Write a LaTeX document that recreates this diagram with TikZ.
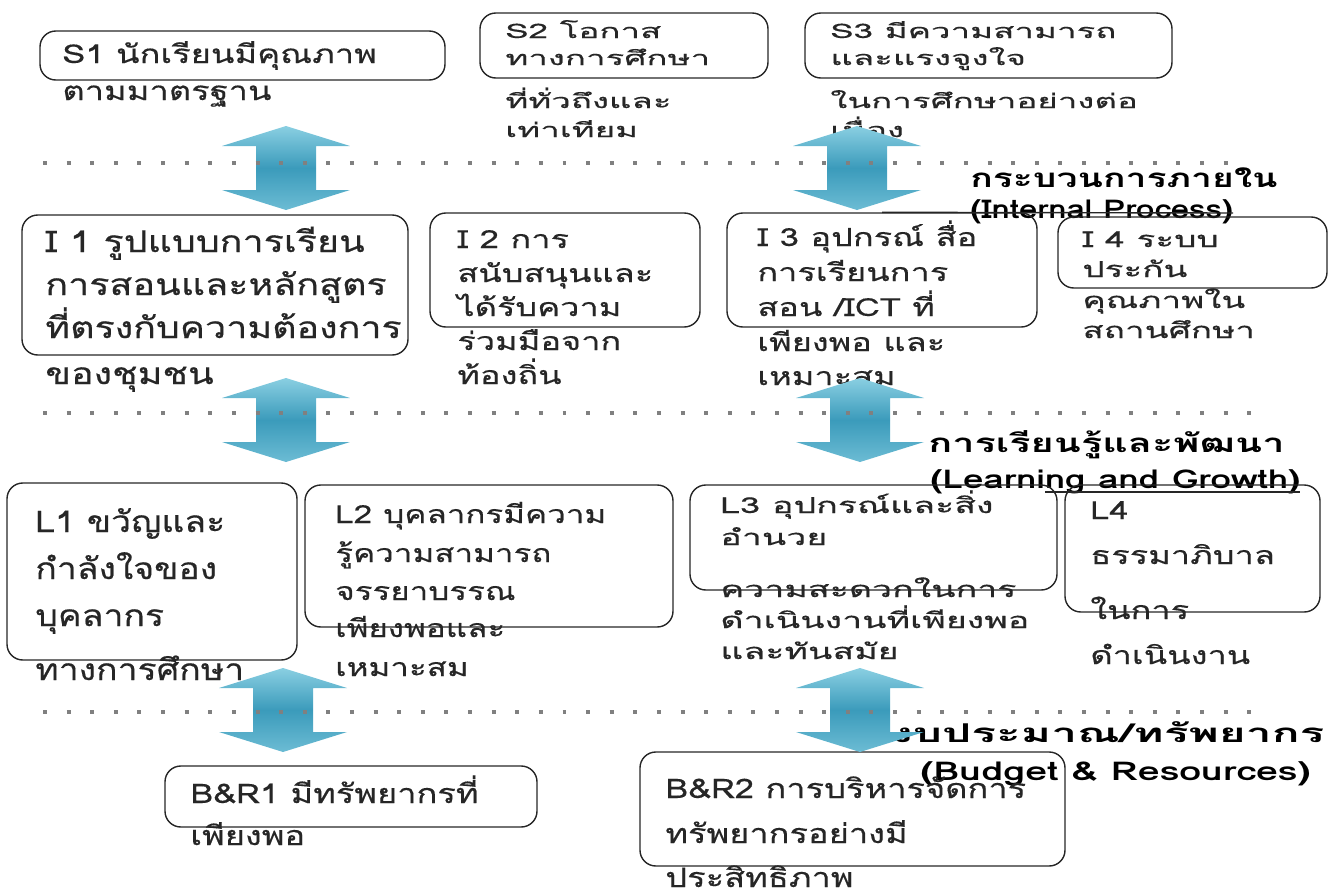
\documentclass[tikz,border=0pt]{standalone}
\usepackage{fontspec}
\setmainfont{Loma}[Script=Thai]
\usetikzlibrary{fit}
\newdimen\pxu \pxu=0.5669pt
% font size in px, horizontal stretch
\newcommand\ff[2]{\fontspec{Loma}[Script=Thai,FakeStretch=#2,FakeBold=0.4]\fontsize{#1\pxu}{#1\pxu}\selectfont}
\newcommand\ffb[2]{\fontspec{Loma}[Script=Thai,FakeStretch=#2]\fontsize{#1\pxu}{#1\pxu}\selectfont\bfseries}
\definecolor{arTop}{HTML}{8ACFE2}
\definecolor{arMid}{HTML}{3B9BBB}
\definecolor{arBot}{HTML}{6CBCD4}
\definecolor{dotc}{HTML}{808080}
\tikzset{
  tx/.style={inner sep=0pt, anchor=base west, text=black!85},
  box/.style={draw=black!85, line width=0.8pt, rounded corners=9pt, inner sep=0pt},
  dots/.style={draw=dotc, line width=2.27pt, dash pattern=on 2.27pt off 11.17pt},
  arrowfill/.style={top color=arTop, bottom color=arBot, middle color=arMid, draw=none},
  dblarrow/.pic={\path[arrowfill] (0,0) -- (64,20) -- (30,20) -- (30,64) -- (64,64) -- (0,84)
      -- (-64,64) -- (-30,64) -- (-30,20) -- (-64,20) -- cycle;},
  lbl/.style={inner sep=0pt, anchor=base west, text=black}
}
\begin{document}
\begin{tikzpicture}[x=0.02cm,y=-0.02cm]
\useasboundingbox (0,0) rectangle (1329,896);
% ---------- texts ----------
\begin{scope}[every node/.append style={font=\ff{26}{1.33}}]
\node[tx] (s1a) at (62,63) {S1 นักเรียนมีคุณภาพ};
\node[tx] (s1b) at (62,100) {ตามมาตรฐาน};
\end{scope}
\begin{scope}[every node/.append style={font=\ff{20}{1.75}}]
\node[tx] (s2a) at (505,38) {S2 โอกาส};
\node[tx] (s2b) at (505,65) {ทางการศึกษา};
\node[tx] (s2c) at (505,108) {ที่ทั่วถึงและ};
\node[tx] (s2d) at (505,137) {เท่าเทียม};
\node[tx] (s3a) at (830,38) {S3 มีความสามารถ};
\node[tx] (s3b) at (830,65) {และแรงจูงใจ};
\node[tx] (s3c) at (830,108) {ในการศึกษาอย่างต่อ};
\node[tx] (s3d) at (830,137) {เนื่อง};
\end{scope}
\node[lbl, font=\ffb{26}{1.44}] (ipth) at (970,187) {กระบวนการภายใน};
\node[lbl, font=\ffb{26}{1.27}] (ipen) at (970,218) {(Internal Process)};
\begin{scope}[every node/.append style={font=\ff{30}{1.26}}]
\node[tx] (i1a) at (45,252) {I 1 รูปแบบการเรียน};
\node[tx] (i1b) at (45,295) {การสอนและหลักสูตร};
\node[tx] (i1c) at (45,338) {ที่ตรงกับความต้องการ};
\node[tx] (i1d) at (45,384) {ของชุมชน};
\end{scope}
\begin{scope}[every node/.append style={font=\ff{25}{1.38}}]
\node[tx] (i2a) at (457,248) {I 2 การ};
\node[tx] (i2b) at (457,282) {สนับสนุนและ};
\node[tx] (i2c) at (457,316) {ได้รับความ};
\node[tx] (i2d) at (457,350) {ร่วมมือจาก};
\node[tx] (i2e) at (457,384) {ท้องถิ่น};
\node[tx] (i3a) at (757,246) {I 3 อุปกรณ์ สื่อ};
\node[tx] (i3b) at (757,281) {การเรียนการ};
\node[tx] (i3c) at (757,316) {สอน /ICT ที่};
\node[tx] (i3d) at (757,351) {เพียงพอ และ};
\node[tx] (i3e) at (757,385) {เหมาะสม};
\end{scope}
\begin{scope}[every node/.append style={font=\ff{22}{1.6}}]
\node[tx] (i4a) at (1082,247) {I 4 ระบบ};
\node[tx] (i4b) at (1082,277) {ประกัน};
\node[tx] (i4c) at (1082,308) {คุณภาพใน};
\node[tx] (i4d) at (1082,338) {สถานศึกษา};
\end{scope}
\node[lbl, font=\ffb{26}{1.53}] (lgth) at (928,452) {การเรียนรู้และพัฒนา};
\node[lbl, font=\ffb{26}{1.42}] (lgen) at (930,488) {(Learning and Growth)};
\begin{scope}[every node/.append style={font=\ff{30}{1.19}}]
\node[tx] (l1a) at (35,532) {L1 ขวัญและ};
\node[tx] (l1b) at (35,579) {กำลังใจของ};
\node[tx] (l1c) at (35,626) {บุคลากร};
\node[tx] (l1d) at (35,680) {ทางการศึกษา};
\end{scope}
\begin{scope}[every node/.append style={font=\ff{25}{1.33}}]
\node[tx] (l2a) at (335,523) {L2 บุคลากรมีความ};
\node[tx] (l2b) at (335,562) {รู้ความสามารถ};
\node[tx] (l2c) at (335,600) {จรรยาบรรณ};
\node[tx] (l2d) at (335,637) {เพียงพอและ};
\node[tx] (l2e) at (335,676) {เหมาะสม};
\end{scope}
\begin{scope}[every node/.append style={font=\ff{22}{1.63}}]
\node[tx] (l3a) at (720,513) {L3 อุปกรณ์และสิ่ง};
\node[tx] (l3b) at (720,545) {อำนวย};
\node[tx] (l3c) at (720,597) {ความสะดวกในการ};
\node[tx] (l3d) at (720,628) {ดำเนินงานที่เพียงพอ};
\node[tx] (l3e) at (720,659) {และทันสมัย};
\end{scope}
\begin{scope}[every node/.append style={font=\ff{25}{1.38}}]
\node[tx] (l4a) at (1090,519) {L4};
\node[tx] (l4b) at (1090,564) {ธรรมาภิบาล};
\node[tx] (l4c) at (1090,619) {ในการ};
\node[tx] (l4d) at (1090,664) {ดำเนินงาน};
\end{scope}
\node[lbl, font=\ffb{26}{1.78}] (brth) at (890,742) {งบประมาณ/ทรัพยากร};
\node[lbl, font=\ffb{26}{1.52}] (bren) at (920,780) {(Budget \& Resources)};
\begin{scope}[every node/.append style={font=\ff{27}{1.28}}]
\node[tx] (b1a) at (190,803) {B\&R1 มีทรัพยากรที่};
\node[tx] (b1b) at (190,845) {เพียงพอ};
\node[tx] (b2a) at (665,798) {B\&R2 การบริหารจัดการ};
\node[tx] (b2b) at (665,843) {ทรัพยากรอย่างมี};
\node[tx] (b2c) at (665,887) {ประสิทธิภาพ};
\end{scope}
% ---------- boxes ----------
\node[box, fit={(40,31) (445,80)}] (S1) {};
\node[box, fit={(480,13) (768,78)}] (S2) {};
\node[box, fit={(805,13) (1172,78)}] (S3) {};
\node[box, fit={(22,215) (408,355)}] (I1) {};
\node[box, fit={(430,213) (700,327)}] (I2) {};
\node[box, fit={(727,213) (1037,327)}] (I3) {};
\node[box, fit={(1058,217) (1327,288)}] (I4) {};
\node[box, fit={(7,483) (297,660)}] (L1) {};
\node[box, fit={(305,485) (673,627)}] (L2) {};
\node[box, fit={(690,485) (1057,590)}] (L3) {};
\node[box, fit={(1065,485) (1320,612)}] (L4) {};
\node[box, fit={(165,766) (537,827)}] (BR1) {};
\node[box, fit={(640,752) (1065,866)}] (BR2) {};
\coordinate (ipEnd) at (1233,213);
\draw[black!85, line width=0.8pt] (I3.north) -- (ipEnd);
\coordinate (lgA) at (1045,492);
\coordinate (lgB) at (1300,492);
\draw[black!85, line width=0.8pt] (lgA) -- (lgB);
% ---------- arrows ----------
\pic at (286,126) {dblarrow};
\pic at (857,126) {dblarrow};
\pic at (286,378) {dblarrow};
\pic at (860,378) {dblarrow};
\pic at (283,668) {dblarrow};
\pic at (860,668) {dblarrow};
% ---------- dotted lines ----------
\draw[dots] (43,163) -- (1247,163);
\draw[dots] (43,413) -- (1270,413);
\draw[dots] (43,712) -- (1270,712);
\end{tikzpicture}
\end{document}
